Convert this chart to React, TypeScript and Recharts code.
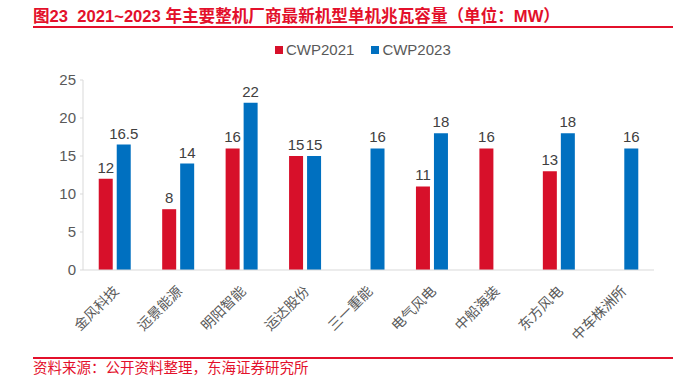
import { Bar, BarChart, LabelList, XAxis, YAxis } from "recharts";

const companies = ["金风科技", "远景能源", "明阳智能", "运达股份", "三一重能", "电气风电", "中船海装", "东方风电", "中车株洲所"];
const cwp2021 = [12, 8, 16, 15, null, 11, 16, 13, null];
const cwp2023 = [16.5, 14, 22, 15, 16, 18, null, 18, 16];
const yTicks = [0, 5, 10, 15, 20, 25];
// category boundaries for the small divider ticks under the x axis
const boundaryTicks = companies.map((_, i) => i).concat(companies.length);

const RED = "#d7102a";
const BLUE = "#0070c0";
const TITLE_RED = "#e3102b";
const FONT = "'Liberation Sans', Arial, 'Noto Sans CJK SC', sans-serif";

const data = companies.map((name, i) => ({ name, cwp2021: cwp2021[i], cwp2023: cwp2023[i] }));

function AngledTick({ x, y, payload }: any) {
  return (
    <text
      x={x + 5}
      y={y + 14}
      transform={`rotate(-45, ${x + 5}, ${y + 14})`}
      textAnchor="end"
      fill="#595959"
      fontSize={14}
      fontFamily={FONT}
    >
      {payload.value}
    </text>
  );
}

export default function App() {
  return (
    <div style={{ position: "absolute", left: 0, top: 0, width: 683, height: 377, background: "#fff", fontFamily: FONT, overflow: "hidden" }}>
      <div style={{ position: "absolute", left: 33, top: 3, color: TITLE_RED, fontWeight: "bold", fontSize: 16.6, whiteSpace: "nowrap" }}>
        图23&nbsp;&nbsp;2021~2023 年主要整机厂商最新机型单机兆瓦容量（单位：MW）
      </div>
      <div style={{ position: "absolute", left: 33, top: 26, width: 640, height: 1.5, background: TITLE_RED }} />

      <div style={{ position: "absolute", left: 275, top: 41, display: "flex", alignItems: "center", fontSize: 15, color: "#595959" }}>
        <span style={{ width: 8, height: 8, background: RED, marginRight: 3 }} />
        <span>CWP2021</span>
        <span style={{ width: 8, height: 8, background: BLUE, marginLeft: 17, marginRight: 3 }} />
        <span>CWP2023</span>
      </div>

      <div style={{ position: "absolute", left: 0, top: 0 }}>
        <BarChart
          width={683}
          height={377}
          data={data}
          margin={{ top: 80, right: 29, left: 43, bottom: 27 }}
          barCategoryGap="24.8%"
          barGap={4}
        >
          <YAxis
            width={40}
            domain={[0, 25]}
            ticks={yTicks}
            tick={{ fill: "#595959", fontSize: 15, fontFamily: FONT }}
            tickSize={3}
            tickMargin={4}
            axisLine={{ stroke: "#d9d9d9" }}
            tickLine={{ stroke: "#d9d9d9" }}
          />
          <XAxis
            xAxisId="bounds"
            type="number"
            domain={[0, companies.length]}
            ticks={boundaryTicks}
            height={0}
            tick={false}
            tickSize={5}
            axisLine={false}
            tickLine={{ stroke: "#d9d9d9" }}
          />
          <XAxis
            dataKey="name"
            height={80}
            interval={0}
            tick={<AngledTick />}
            axisLine={{ stroke: "#d9d9d9" }}
            tickLine={false}
          />
          <Bar dataKey="cwp2021" fill={RED} isAnimationActive={false}>
            <LabelList dataKey="cwp2021" position="top" offset={6} fill="#404040" fontSize={15} fontFamily={FONT} />
          </Bar>
          <Bar dataKey="cwp2023" fill={BLUE} isAnimationActive={false}>
            <LabelList dataKey="cwp2023" position="top" offset={6} fill="#404040" fontSize={15} fontFamily={FONT} />
          </Bar>
        </BarChart>
      </div>

      <div style={{ position: "absolute", left: 33, top: 357, width: 640, height: 1.5, background: TITLE_RED }} />
      <div style={{ position: "absolute", left: 33, top: 361, color: TITLE_RED, fontSize: 14.5, lineHeight: "15px", whiteSpace: "nowrap" }}>
        资料来源：公开资料整理，东海证券研究所
      </div>
    </div>
  );
}
